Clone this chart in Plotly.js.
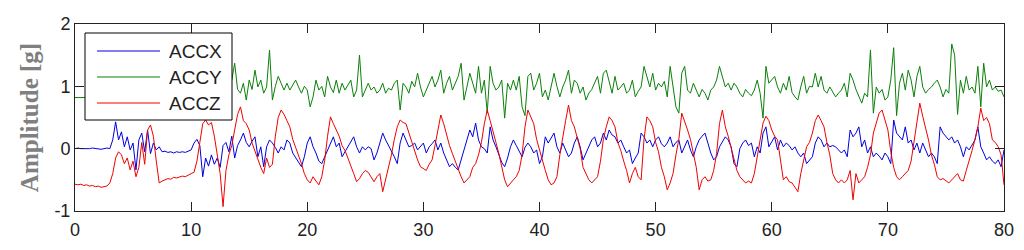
<!DOCTYPE html>
<html>
<head>
<meta charset="utf-8">
<script src="https://cdn.plot.ly/plotly-3.0.1.min.js"></script>
<style>
  html, body { margin: 0; padding: 0; background: #fff; }
  #chart { width: 1024px; height: 250px; }
</style>
</head>
<body>
<div id="chart"></div>
<script>
// sampling of the recording (seconds)
const t0 = 0;
const dt = 0.25;

// one row = one second (4 samples)
const accX = [
  0.00, 0.01, 0.00, 0.00,   -0.01, 0.00, 0.01, 0.00,   0.00, -0.01, 0.00, 0.01,
  0.00, 0.14, 0.43, 0.14,   0.27, 0.03, 0.19, -0.02,   0.09, -0.34, 0.14, 0.25,
  -0.05, 0.30, -0.08, 0.09, -0.02, 0.03, -0.05, -0.04, -0.06, -0.05, -0.07, -0.05,
  -0.06, -0.05, -0.06, -0.04, -0.02, 0.09, 0.15, 0.05, -0.45, -0.15, -0.28, -0.10,
  -0.25, -0.15, -0.30, 0.05, 0.10, -0.05, 0.20, -0.15,  0.05, 0.14, 0.25, 0.10,
  0.03, 0.12, 0.19, -0.13,  0.03, -0.29, 0.03, 0.14,   0.09, 0.02, -0.07, 0.03,
  -0.02, 0.14, 0.09, -0.07, -0.15, -0.22, -0.29, -0.13, 0.09, 0.19, 0.03, -0.07,
  -0.20, -0.24, -0.13, -0.02, 0.09, 0.19, 0.03, 0.09,  -0.13, -0.05, 0.03, 0.09,
  0.19, 0.03, -0.07, 0.03,  -0.02, 0.03, 0.00, -0.18,  -0.07, 0.09, 0.25, 0.14,
  0.05, -0.02, -0.13, -0.24, 0.09, 0.25, 0.14, 0.03,   0.05, 0.09, -0.02, 0.03,
  0.09, -0.07, 0.03, 0.08,  0.14, -0.02, 0.09, -0.07,  -0.18, -0.29, -0.24, -0.30,
  -0.34, -0.18, -0.02, 0.14, 0.30, 0.19, 0.41, 0.14,   0.03, 0.00, -0.07, 0.35,
  0.14, 0.03, -0.10, -0.22, -0.29, -0.15, 0.03, 0.14,  0.05, -0.05, -0.13, 0.02,
  0.09, 0.03, -0.07, -0.02, -0.24, -0.13, 0.19, 0.09,  0.16, 0.25, 0.03, -0.07,
  0.09, -0.02, -0.13, -0.07, 0.09, 0.19, 0.03, -0.18,  -0.07, 0.05, 0.14, 0.19,
  0.03, 0.09, 0.25, 0.14,   0.30, 0.22, 0.19, 0.09,    0.14, 0.03, -0.07, -0.02,
  -0.24, -0.15, -0.07, 0.25, 0.19, 0.09, 0.14, 0.03,   0.14, 0.19, 0.08, 0.03,
  0.09, 0.19, 0.03, 0.10,   0.14, -0.07, 0.03, 0.14,   -0.02, -0.13, 0.03, 0.14,
  0.20, 0.25, 0.09, -0.07,  -0.18, -0.13, 0.03, 0.12,  0.19, 0.14, 0.03, -0.24,
  -0.29, 0.00, 0.09, 0.14,  0.05, 0.09, -0.13, 0.03,   -0.07, 0.25, 0.35, 0.03,
  0.10, 0.19, -0.02, 0.14,  0.03, 0.09, 0.05, -0.02,   0.03, -0.07, -0.13, -0.07,
  -0.24, -0.18, -0.13, 0.09, 0.19, 0.14, 0.03, 0.09,   0.03, 0.05, 0.03, -0.02,
  -0.07, -0.02, -0.13, 0.30, 0.19, 0.25, 0.35, 0.03,   0.14, -0.07, 0.03, -0.13,
  -0.07, -0.12, -0.18, -0.07, -0.13, -0.24, 0.46, 0.25, 0.19, 0.14, 0.35, 0.09,
  0.14, -0.02, 0.09, -0.07, 0.09, -0.02, -0.13, -0.07,  -0.13, -0.24, 0.35, 0.25,
  0.19, 0.14, 0.19, 0.09,   0.14, 0.03, -0.13, 0.03,   -0.02, 0.05, 0.14, 0.35,
  0.03, -0.07, -0.18, -0.13, -0.20, -0.24, -0.18, -0.29,
  -0.02
];

const accY = [
  0.82, 0.82, 0.81, 0.82,   0.82, 0.83, 0.82, 0.81,    0.82, 0.82, 0.81, 0.82,
  0.85, 0.95, 0.70, 1.10,   0.90, 1.05, 0.75, 0.95,    1.15, 0.80, 0.95, 0.70,
  1.05, 0.90, 1.20, 0.85,   0.95, 0.90, 0.92, 0.88,    0.90, 0.91, 0.89, 0.90,
  0.91, 0.90, 0.89, 0.90,   0.92, 0.95, 1.10, 0.85,    1.15, 0.80, 1.00, 0.90,
  1.20, 0.75, 1.05, 0.90,   0.75, 1.00, 1.10, 1.37,    0.95, 0.89, 1.05, 0.78,
  1.10, 0.95, 1.26, 0.99,   1.10, 0.89, 0.99, 1.58,    0.78, 1.00, 1.16, 1.05,
  0.94, 1.05, 0.94, 1.02,   1.10, 0.99, 0.89, 1.00,    0.94, 0.67, 0.83, 1.10,
  0.94, 1.00, 0.83, 1.16,   0.99, 0.90, 1.10, 0.89,    1.05, 0.94, 1.02, 1.10,
  0.83, 0.94, 1.50, 0.83,   0.94, 1.05, 0.94, 0.99,    0.89, 0.94, 1.05, 0.89,
  0.97, 0.94, 1.05, 1.10,   0.62, 1.05, 0.99, 0.89,    1.08, 0.99, 1.21, 0.99,
  0.83, 0.94, 1.05, 1.16,   0.99, 1.10, 1.26, 0.89,    1.05, 1.16, 0.94, 1.05,
  1.16, 1.37, 0.78, 0.99,   1.21, 1.05, 0.89, 1.32,    0.89, 1.10, 0.57, 1.32,
  1.05, 0.94, 0.99, 1.10,   0.49, 1.05, 0.94, 1.10,    0.94, 1.16, 0.67, 0.53,
  1.16, 1.21, 0.94, 1.05,   1.21, 0.83, 0.94, 0.78,    0.99, 1.21, 1.00, 0.83,
  0.99, 1.10, 1.26, 0.89,   1.10, 1.05, 0.89, 0.99,    0.78, 0.89, 0.95, 1.05,
  1.16, 0.89, 1.21, 1.26,   1.05, 0.89, 1.16, 0.94,    0.99, 1.05, 0.89, 0.94,
  1.10, 0.83, 0.92, 0.99,   1.32, 1.16, 0.99, 1.21,    0.94, 1.05, 0.99, 1.08,
  0.83, 1.32, 0.99, 0.67,   0.57, 1.21, 1.32, 0.94,    0.89, 1.05, 0.94, 0.83,
  0.95, 0.89, 0.78, 0.94,   0.99, 1.10, 1.32, 1.16,    0.99, 1.05, 0.94, 1.05,
  0.99, 0.89, 0.83, 0.95,   0.89, 0.85, 0.94, 1.10,    0.89, 0.49, 1.32, 1.05,
  1.10, 1.16, 0.99, 0.89,   1.05, 0.94, 1.16, 0.90,    0.83, 0.78, 0.99, 1.16,
  0.89, 1.00, 0.99, 1.21,   0.99, 1.16, 0.94, 0.89,    0.99, 0.92, 0.83, 0.89,
  0.94, 1.05, 0.83, 1.21,   1.10, 0.95, 0.83, 0.73,    0.89, 0.83, 1.58, 0.57,
  0.99, 0.89, 0.95, 0.78,   0.83, 1.10, 1.62, 0.53,    1.05, 1.21, 0.94, 1.26,
  1.10, 0.83, 1.16, 1.32,   0.99, 0.89, 0.95, 0.99,    1.05, 1.10, 0.99, 0.83,
  0.95, 0.89, 1.68, 1.50,   0.55, 1.10, 0.89, 1.16,    0.94, 0.99, 0.89, 1.32,
  0.67, 1.37, 0.99, 1.10,   0.94, 0.99, 0.92, 0.94,
  0.83
];

const accZ = [
  -0.57, -0.58, -0.57, -0.59, -0.58, -0.60, -0.59, -0.61, -0.60, -0.62, -0.61, -0.60,
  -0.55, -0.40, -0.15, -0.05, -0.10, -0.24, -0.15, -0.34, -0.20, -0.45, -0.30, 0.10,
  -0.25, 0.30, 0.38, 0.20,    -0.20, -0.55, -0.52, -0.50, -0.48, -0.49, -0.46, -0.47,
  -0.45, -0.44, -0.45, -0.42, -0.40, -0.38, -0.20, 0.10,  0.40, 0.46, 0.38, 0.42,
  0.20, -0.10, -0.40, -0.93,  -0.35, -0.10, 0.05, 0.30,   0.55, 0.67, 0.45, 0.40,
  0.30, 0.09, -0.05, -0.18,   -0.30, -0.40, -0.15, -0.30, -0.25, 0.20, 0.50, 0.62,
  0.55, 0.45, 0.35, 0.15,     0.03, -0.10, -0.24, -0.40,  -0.50, -0.55, -0.45, -0.52,
  -0.58, -0.45, -0.19, 0.20,  0.51, 0.40, 0.30, 0.20,     0.05, -0.03, -0.15, -0.29,
  -0.40, -0.53, -0.48, -0.40, -0.35, -0.38, -0.45, -0.53, -0.45, -0.40, -0.69, -0.50,
  -0.30, -0.10, 0.15, 0.35,   0.46, 0.42, 0.40, 0.25,     0.10, -0.03, -0.18, -0.29,
  -0.32, -0.35, -0.25, -0.18, 0.05, 0.30, 0.54, 0.40,     0.20, 0.05, -0.08, -0.20,
  -0.35, -0.45, -0.55, -0.50, -0.45, -0.30, -0.24, -0.10, 0.10, 0.40, 0.62, 0.45,
  0.25, 0.10, -0.08, -0.30,   -0.50, -0.61, -0.55, -0.50, -0.45, -0.35, -0.10, 0.35,
  0.62, 0.50, 0.40, 0.15,     -0.03, -0.20, -0.35, -0.50, -0.58, -0.55, -0.45, -0.10,
  0.20, 0.45, 0.70, 0.45,     0.35, 0.15, 0.00, -0.30,    -0.40, -0.50, -0.55, -0.50,
  -0.45, -0.20, 0.15, 0.35,   0.51, 0.45, 0.35, 0.10,     -0.03, -0.20, -0.35, -0.55,
  -0.40, -0.30, -0.45, -0.50, 0.15, 0.51, 0.45, 0.35,     0.10, -0.05, -0.30, -0.45,
  -0.66, -0.55, -0.40, -0.10, 0.15, 0.57, 0.45, 0.30,     0.15, -0.08, -0.30, -0.66,
  -0.50, -0.45, -0.52, -0.50, -0.35, -0.08, 0.40, 0.62,   0.35, 0.20, 0.00, -0.15,
  -0.35, -0.45, -0.50, -0.55, -0.52, -0.55, -0.40, -0.13, 0.10, 0.41, 0.52, 0.45,
  0.30, 0.20, 0.14, -0.20,    -0.50, -0.45, -0.53, -0.55, -0.62, -0.69, -0.40, -0.20,
  0.03, 0.10, 0.25, 0.45,     0.54, 0.45, 0.35, 0.10,     -0.10, -0.40, -0.50, -0.55,
  -0.50, -0.55, -0.50, -0.35, -0.82, -0.40, -0.55, -0.50, -0.45, -0.30, -0.10, 0.25,
  0.40, 0.57, 0.62, 0.45,     0.30, -0.05, -0.30, -0.45,  -0.50, -0.45, -0.40, -0.35,
  -0.20, 0.10, 0.45, 0.73,    0.52, 0.35, 0.14, -0.10,    -0.25, -0.45, -0.50, -0.48,
  -0.52, -0.55, -0.50, -0.45, -0.40, -0.50, -0.52, -0.35, -0.20, -0.03, 0.15, 0.35,
  0.65, 0.45, 0.50, 0.40,     0.14, 0.10, 0.03, -0.10,
  -0.58
];

const seriesNames = ['ACCX', 'ACCY', 'ACCZ'];
const seriesData = [accX, accY, accZ];
const seriesColors = ['#0000e0', '#0a800a', '#f00000'];

const xTicks = [0, 10, 20, 30, 40, 50, 60, 70, 80];
const yTicks = [-1, 0, 1, 2];
const yTickText = ['-1', '0', '1', '2'];

// plot box in page pixels
const box = { l: 75, r: 1004, t: 24, b: 211 };
const W = 1024, H = 250;
const px = x => (x - box.l) / (box.r - box.l);
const py = y => (box.b - y) / (box.b - box.t);

const traces = seriesData.map((d, i) => ({
  y: d,
  x0: t0,
  dx: dt,
  type: 'scatter',
  mode: 'lines',
  name: seriesNames[i],
  line: { color: seriesColors[i], width: 1 },
  showlegend: false
}));

// legend box drawn by hand (MATLAB style, long sample lines)
const legendRows = [51, 77, 103];
const shapes = [{
  type: 'rect', xref: 'paper', yref: 'paper',
  x0: px(85), x1: px(232), y0: py(120), y1: py(33),
  line: { color: '#000', width: 1 }, fillcolor: '#fff', layer: 'above'
}];
const annotations = [];
seriesNames.forEach((n, i) => {
  shapes.push({
    type: 'line', xref: 'paper', yref: 'paper',
    x0: px(97), x1: px(160), y0: py(legendRows[i]), y1: py(legendRows[i]),
    line: { color: seriesColors[i], width: 1.2 }, layer: 'above'
  });
  annotations.push({
    xref: 'paper', yref: 'paper', x: px(167), y: py(legendRows[i]),
    xanchor: 'left', yanchor: 'middle', showarrow: false, text: n,
    font: { family: 'Liberation Sans, Arial, sans-serif', size: 19, color: '#222' }
  });
});

const axisBase = {
  showline: true, linecolor: '#222', linewidth: 1, mirror: 'allticks',
  ticks: 'inside', ticklen: 9, tickcolor: '#222', tickwidth: 1,
  showgrid: false, zeroline: false,
  tickfont: { family: 'Liberation Sans, Arial, sans-serif', size: 18, color: '#222' }
};

const layout = {
  width: W, height: H,
  margin: { l: box.l, r: W - box.r, t: box.t, b: H - box.b },
  paper_bgcolor: '#fff', plot_bgcolor: '#fff',
  showlegend: false,
  xaxis: { ...axisBase, range: [0, 80], tickvals: xTicks, ticklabelstandoff: 2 },
  yaxis: {
    ...axisBase, range: [-1, 2], tickvals: yTicks, ticktext: yTickText,
    title: {
      text: 'Amplitude [g]', standoff: 8,
      font: { family: 'Liberation Serif, Times New Roman, serif', size: 25, color: '#808080', weight: 'bold' }
    }
  },
  shapes: shapes,
  annotations: annotations
};

Plotly.newPlot('chart', traces, layout, { staticPlot: true });
</script>
</body>
</html>
